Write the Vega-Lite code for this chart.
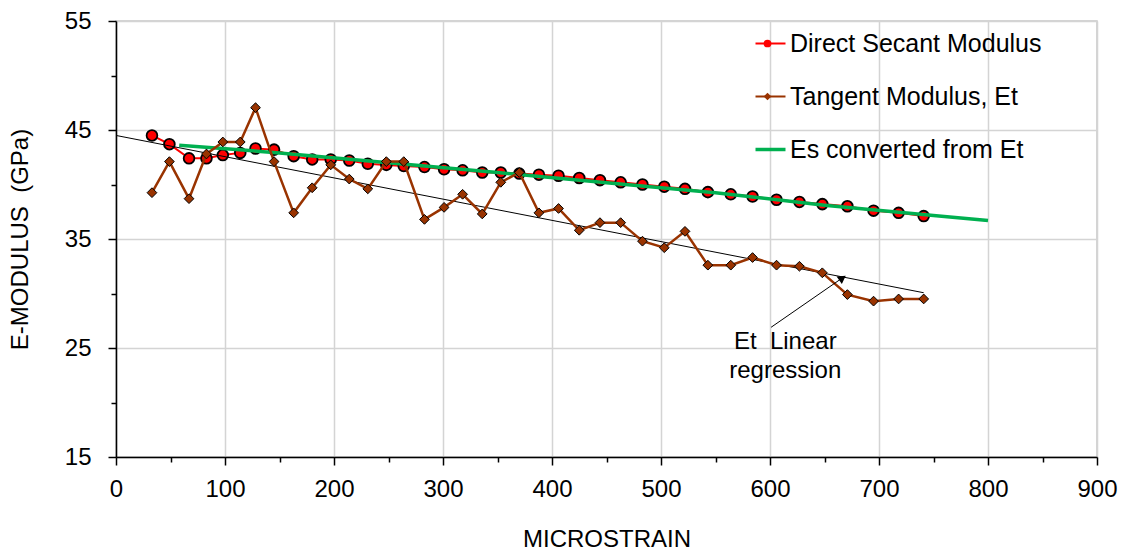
{
  "$schema": "https://vega.github.io/schema/vega-lite/v6.json",
  "autosize": {"type": "none"},
  "width": 981,
  "height": 436,
  "padding": {"left": 116, "top": 21, "right": 25, "bottom": 95},
  "background": "white",
  "config": {
    "font": "Liberation Sans",
    "view": {"stroke": "#c8c8c8", "strokeWidth": 1.5},
    "axis": {"labelFont": "Liberation Sans", "titleFont": "Liberation Sans", "labelColor": "black", "titleColor": "black"}
  },
  "datasets": {
    "series": [
      {"series": "Direct Secant Modulus", "strain": 33, "modulus": 44.5},
      {"series": "Direct Secant Modulus", "strain": 49, "modulus": 43.7},
      {"series": "Direct Secant Modulus", "strain": 67, "modulus": 42.4},
      {"series": "Direct Secant Modulus", "strain": 83, "modulus": 42.4},
      {"series": "Direct Secant Modulus", "strain": 98, "modulus": 42.7},
      {"series": "Direct Secant Modulus", "strain": 114, "modulus": 42.9},
      {"series": "Direct Secant Modulus", "strain": 128, "modulus": 43.3},
      {"series": "Direct Secant Modulus", "strain": 145, "modulus": 43.2},
      {"series": "Direct Secant Modulus", "strain": 163, "modulus": 42.6},
      {"series": "Direct Secant Modulus", "strain": 180, "modulus": 42.3},
      {"series": "Direct Secant Modulus", "strain": 197, "modulus": 42.3},
      {"series": "Direct Secant Modulus", "strain": 214, "modulus": 42.2},
      {"series": "Direct Secant Modulus", "strain": 231, "modulus": 41.9},
      {"series": "Direct Secant Modulus", "strain": 248, "modulus": 41.8},
      {"series": "Direct Secant Modulus", "strain": 264, "modulus": 41.7},
      {"series": "Direct Secant Modulus", "strain": 283, "modulus": 41.6},
      {"series": "Direct Secant Modulus", "strain": 301, "modulus": 41.4},
      {"series": "Direct Secant Modulus", "strain": 318, "modulus": 41.3},
      {"series": "Direct Secant Modulus", "strain": 336, "modulus": 41.1},
      {"series": "Direct Secant Modulus", "strain": 353, "modulus": 41.1},
      {"series": "Direct Secant Modulus", "strain": 370, "modulus": 41.0},
      {"series": "Direct Secant Modulus", "strain": 388, "modulus": 40.9},
      {"series": "Direct Secant Modulus", "strain": 406, "modulus": 40.8},
      {"series": "Direct Secant Modulus", "strain": 425, "modulus": 40.6},
      {"series": "Direct Secant Modulus", "strain": 444, "modulus": 40.4},
      {"series": "Direct Secant Modulus", "strain": 463, "modulus": 40.2},
      {"series": "Direct Secant Modulus", "strain": 483, "modulus": 40.0},
      {"series": "Direct Secant Modulus", "strain": 503, "modulus": 39.8},
      {"series": "Direct Secant Modulus", "strain": 522, "modulus": 39.6},
      {"series": "Direct Secant Modulus", "strain": 543, "modulus": 39.3},
      {"series": "Direct Secant Modulus", "strain": 564, "modulus": 39.1},
      {"series": "Direct Secant Modulus", "strain": 584, "modulus": 38.9},
      {"series": "Direct Secant Modulus", "strain": 606, "modulus": 38.6},
      {"series": "Direct Secant Modulus", "strain": 627, "modulus": 38.4},
      {"series": "Direct Secant Modulus", "strain": 648, "modulus": 38.2},
      {"series": "Direct Secant Modulus", "strain": 671, "modulus": 38.0},
      {"series": "Direct Secant Modulus", "strain": 695, "modulus": 37.6},
      {"series": "Direct Secant Modulus", "strain": 718, "modulus": 37.4},
      {"series": "Direct Secant Modulus", "strain": 741, "modulus": 37.1},
      {"series": "Tangent Modulus, Et", "strain": 33, "modulus": 39.25},
      {"series": "Tangent Modulus, Et", "strain": 49, "modulus": 42.1},
      {"series": "Tangent Modulus, Et", "strain": 67, "modulus": 38.7},
      {"series": "Tangent Modulus, Et", "strain": 83, "modulus": 42.8},
      {"series": "Tangent Modulus, Et", "strain": 98, "modulus": 43.9},
      {"series": "Tangent Modulus, Et", "strain": 114, "modulus": 43.9},
      {"series": "Tangent Modulus, Et", "strain": 128, "modulus": 47.05},
      {"series": "Tangent Modulus, Et", "strain": 145, "modulus": 42.1},
      {"series": "Tangent Modulus, Et", "strain": 163, "modulus": 37.4},
      {"series": "Tangent Modulus, Et", "strain": 180, "modulus": 39.7},
      {"series": "Tangent Modulus, Et", "strain": 197, "modulus": 41.8},
      {"series": "Tangent Modulus, Et", "strain": 214, "modulus": 40.5},
      {"series": "Tangent Modulus, Et", "strain": 231, "modulus": 39.6},
      {"series": "Tangent Modulus, Et", "strain": 248, "modulus": 42.1},
      {"series": "Tangent Modulus, Et", "strain": 264, "modulus": 42.1},
      {"series": "Tangent Modulus, Et", "strain": 283, "modulus": 36.8},
      {"series": "Tangent Modulus, Et", "strain": 301, "modulus": 37.9},
      {"series": "Tangent Modulus, Et", "strain": 318, "modulus": 39.1},
      {"series": "Tangent Modulus, Et", "strain": 336, "modulus": 37.3},
      {"series": "Tangent Modulus, Et", "strain": 353, "modulus": 40.2},
      {"series": "Tangent Modulus, Et", "strain": 370, "modulus": 41.1},
      {"series": "Tangent Modulus, Et", "strain": 388, "modulus": 37.4},
      {"series": "Tangent Modulus, Et", "strain": 406, "modulus": 37.8},
      {"series": "Tangent Modulus, Et", "strain": 425, "modulus": 35.8},
      {"series": "Tangent Modulus, Et", "strain": 444, "modulus": 36.5},
      {"series": "Tangent Modulus, Et", "strain": 463, "modulus": 36.5},
      {"series": "Tangent Modulus, Et", "strain": 483, "modulus": 34.8},
      {"series": "Tangent Modulus, Et", "strain": 503, "modulus": 34.2},
      {"series": "Tangent Modulus, Et", "strain": 522, "modulus": 35.7},
      {"series": "Tangent Modulus, Et", "strain": 543, "modulus": 32.6},
      {"series": "Tangent Modulus, Et", "strain": 564, "modulus": 32.6},
      {"series": "Tangent Modulus, Et", "strain": 584, "modulus": 33.3},
      {"series": "Tangent Modulus, Et", "strain": 606, "modulus": 32.6},
      {"series": "Tangent Modulus, Et", "strain": 627, "modulus": 32.5},
      {"series": "Tangent Modulus, Et", "strain": 648, "modulus": 31.9},
      {"series": "Tangent Modulus, Et", "strain": 671, "modulus": 29.9},
      {"series": "Tangent Modulus, Et", "strain": 695, "modulus": 29.3},
      {"series": "Tangent Modulus, Et", "strain": 718, "modulus": 29.5},
      {"series": "Tangent Modulus, Et", "strain": 741, "modulus": 29.5},
      {"series": "Es converted from Et", "strain": 58, "modulus": 43.6},
      {"series": "Es converted from Et", "strain": 150, "modulus": 42.9},
      {"series": "Es converted from Et", "strain": 250, "modulus": 42.0},
      {"series": "Es converted from Et", "strain": 350, "modulus": 41.1},
      {"series": "Es converted from Et", "strain": 450, "modulus": 40.15},
      {"series": "Es converted from Et", "strain": 550, "modulus": 39.25},
      {"series": "Es converted from Et", "strain": 650, "modulus": 38.1},
      {"series": "Es converted from Et", "strain": 750, "modulus": 37.15},
      {"series": "Es converted from Et", "strain": 800, "modulus": 36.7}
    ]
  },
  "resolve": {"axis": {"x": "independent", "y": "independent"}},
  "layer": [
    {
      "data": {"name": "series"},
      "transform": [{"filter": "datum.series === 'Direct Secant Modulus'"}],
      "mark": {"type": "line", "strokeWidth": 2},
      "encoding": {
        "x": {"field": "strain", "type": "quantitative",
          "scale": {"domain": [0, 900], "nice": false, "zero": false},
          "axis": {"orient": "bottom", "values": [0, 100, 200, 300, 400, 500, 600, 700, 800, 900],
            "title": "MICROSTRAIN", "titleFontSize": 24, "titleFontWeight": "normal", "titlePadding": 26,
            "labelFontSize": 24, "labelPadding": 12, "labelFlush": false, "labelOverlap": false,
            "tickSize": 8, "tickColor": "black", "tickWidth": 1.5,
            "domainColor": "black", "domainWidth": 1.5,
            "grid": true, "gridColor": "#d4d4d4", "gridWidth": 1.5}},
        "y": {"field": "modulus", "type": "quantitative",
          "scale": {"domain": [15, 55], "nice": false, "zero": false},
          "axis": {"orient": "left", "values": [15, 25, 35, 45, 55],
            "title": "E-MODULUS\u00a0 (GPa)", "titleFontSize": 24, "titleFontWeight": "normal", "titlePadding": 32,
            "labelFontSize": 24, "labelPadding": 17, "labelFlush": false, "labelOverlap": false,
            "tickSize": 8, "tickColor": "black", "tickWidth": 1.5,
            "domainColor": "black", "domainWidth": 1.5,
            "grid": true, "gridColor": "#d4d4d4", "gridWidth": 1.5}},
        "color": {"field": "series", "type": "nominal",
          "scale": {"domain": ["Direct Secant Modulus", "Tangent Modulus, Et", "Es converted from Et"],
            "range": ["#ff0000", "#993300", "#00b050"]},
          "legend": {"orient": "none", "legendX": 642, "legendY": 10, "title": null, "padding": 0,
            "symbolType": "stroke", "symbolSize": 900, "symbolStrokeWidth": 2.5,
            "labelFontSize": 25, "labelFont": "Liberation Sans", "labelColor": "black", "labelOffset": 7,
            "labelLimit": 400, "rowPadding": 27,
            "encode": {"symbols": {"update": {"strokeWidth": {"signal": "datum.value === 'Es converted from Et' ? 3.5 : 2"}}}}}}
      }
    },
    {
      "data": {"name": "series"},
      "transform": [{"filter": "datum.series === 'Direct Secant Modulus'"}],
      "mark": {"type": "point", "filled": true, "size": 115, "stroke": "black", "strokeWidth": 1.8, "opacity": 1},
      "encoding": {
        "x": {"field": "strain", "type": "quantitative",
          "axis": {"orient": "bottom", "values": [50, 150, 250, 350, 450, 550, 650, 750, 850],
            "labels": false, "title": null, "domain": false, "grid": false,
            "tickSize": 5, "tickColor": "black", "tickWidth": 1.5}},
        "y": {"field": "modulus", "type": "quantitative",
          "axis": {"orient": "left", "values": [20, 30, 40, 50],
            "labels": false, "title": null, "domain": false, "grid": false,
            "tickSize": 5, "tickColor": "black", "tickWidth": 1.5}},
        "fill": {"field": "series", "type": "nominal",
          "scale": {"domain": ["Direct Secant Modulus", "Tangent Modulus, Et"], "range": ["#ff0000", "#993300"]},
          "legend": {"orient": "none", "legendX": 639, "legendY": 10, "title": null, "padding": 0,
            "symbolSize": 60, "symbolStrokeColor": "black", "symbolStrokeWidth": 1,
            "labelFontSize": 25, "labelFont": "Liberation Sans", "labelColor": "transparent", "labelExpr": "''",
            "labelOffset": 5, "labelLimit": 400, "rowPadding": 27}},
        "shape": {"field": "series", "type": "nominal",
          "scale": {"domain": ["Direct Secant Modulus", "Tangent Modulus, Et"], "range": ["circle", "diamond"]},
          "legend": {"orient": "none", "legendX": 639, "legendY": 10, "title": null, "padding": 0,
            "symbolSize": 60, "symbolStrokeColor": "black", "symbolStrokeWidth": 1,
            "labelFontSize": 25, "labelFont": "Liberation Sans", "labelColor": "transparent", "labelExpr": "''",
            "labelOffset": 5, "labelLimit": 400, "rowPadding": 27}}
      }
    },
    {
      "data": {"name": "series"},
      "transform": [{"filter": "datum.series === 'Es converted from Et'"}],
      "mark": {"type": "line", "strokeWidth": 3.5},
      "encoding": {
        "x": {"field": "strain", "type": "quantitative", "axis": null},
        "y": {"field": "modulus", "type": "quantitative", "axis": null},
        "color": {"field": "series", "type": "nominal"}
      }
    },
    {
      "data": {"values": [
        {"strain": 0, "modulus": 44.5},
        {"strain": 741, "modulus": 30.07}
      ]},
      "mark": {"type": "line", "color": "black", "strokeWidth": 1},
      "encoding": {
        "x": {"field": "strain", "type": "quantitative", "axis": null},
        "y": {"field": "modulus", "type": "quantitative", "axis": null}
      }
    },
    {
      "data": {"name": "series"},
      "transform": [{"filter": "datum.series === 'Tangent Modulus, Et'"}],
      "mark": {"type": "line", "strokeWidth": 2.5},
      "encoding": {
        "x": {"field": "strain", "type": "quantitative", "axis": null},
        "y": {"field": "modulus", "type": "quantitative", "axis": null},
        "color": {"field": "series", "type": "nominal"}
      }
    },
    {
      "data": {"name": "series"},
      "transform": [{"filter": "datum.series === 'Tangent Modulus, Et'"}],
      "mark": {"type": "point", "filled": true, "size": 95, "stroke": "black", "strokeWidth": 1, "opacity": 1},
      "encoding": {
        "x": {"field": "strain", "type": "quantitative", "axis": null},
        "y": {"field": "modulus", "type": "quantitative", "axis": null},
        "fill": {"field": "series", "type": "nominal"},
        "shape": {"field": "series", "type": "nominal"}
      }
    },
    {
      "data": {"values": [
        {"strain": 601, "modulus": 26.9},
        {"strain": 666, "modulus": 31.4}
      ]},
      "mark": {"type": "line", "color": "black", "strokeWidth": 1},
      "encoding": {
        "x": {"field": "strain", "type": "quantitative", "axis": null},
        "y": {"field": "modulus", "type": "quantitative", "axis": null}
      }
    },
    {
      "data": {"values": [
        {"strain": 666.5, "modulus": 31.42}
      ]},
      "mark": {"type": "point", "shape": "triangle-up", "filled": true, "color": "black", "size": 85, "angle": 55, "opacity": 1},
      "encoding": {
        "x": {"field": "strain", "type": "quantitative", "axis": null},
        "y": {"field": "modulus", "type": "quantitative", "axis": null}
      }
    },
    {
      "data": {"values": [
        {"strain": 614, "modulus": 24.91, "label": "Et\u00a0 Linear"},
        {"strain": 614, "modulus": 22.25, "label": "regression"}
      ]},
      "mark": {"type": "text", "align": "center", "baseline": "alphabetic", "fontSize": 24, "font": "Liberation Sans", "color": "black"},
      "encoding": {
        "x": {"field": "strain", "type": "quantitative", "axis": null},
        "y": {"field": "modulus", "type": "quantitative", "axis": null},
        "text": {"field": "label", "type": "nominal"}
      }
    }
  ]
}
